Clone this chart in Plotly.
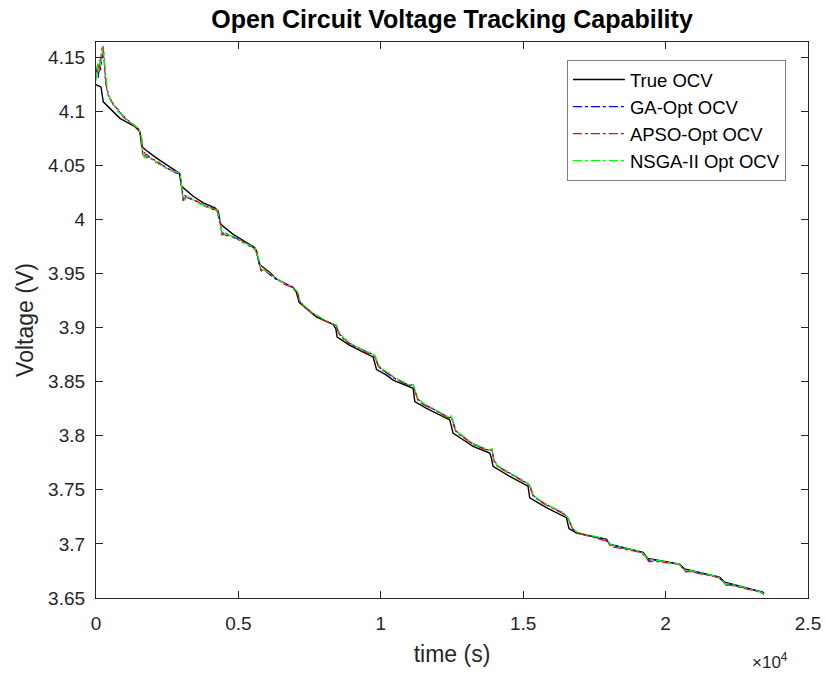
import plotly.graph_objects as go

# ---------------- data ----------------
t_true = [0, 175, 256, 491, 842, 1369, 1544, 1604, 1779, 2130, 2305, 2772, 2923, 3007,
          3414, 3765, 4175, 4292, 4376, 4818, 5288, 5579, 5639, 5730, 6106, 6341, 6923,
          7018, 7134, 7744, 8327, 8422, 8467, 8913, 9380, 9730, 9850, 10201, 10432, 10773,
          11134, 11194, 11604, 12421, 12537, 12888, 13239, 13825, 13885, 13941, 14527,
          15169, 15229, 15815, 16517, 16608, 16868, 17920, 18036, 19205, 19380, 20493,
          20668, 21896, 22071, 23415, 23457]
v_true = [4.1246, 4.1225, 4.1087, 4.1026, 4.0934, 4.0857, 4.0811, 4.0674, 4.0634, 4.0566,
          4.0536, 4.0460, 4.0428, 4.0306, 4.0214, 4.0153, 4.0107, 4.0076, 3.9954, 3.9862,
          3.9785, 3.9739, 3.9709, 3.9586, 3.9509, 3.9449, 3.9371, 3.9341, 3.9234, 3.9096,
          3.9029, 3.8989, 3.8912, 3.8836, 3.8774, 3.8728, 3.8612, 3.8560, 3.8514, 3.8477,
          3.8438, 3.8315, 3.8254, 3.8146, 3.8024, 3.7963, 3.7901, 3.7840, 3.7794, 3.7717,
          3.7625, 3.7533, 3.7427, 3.7335, 3.7243, 3.7142, 3.7099, 3.7044, 3.6998, 3.6921,
          3.6866, 3.6814, 3.6768, 3.6692, 3.6646, 3.6554, 3.6543]

t_est = [0, 40, 80, 120, 160, 200, 240, 280, 320, 360, 400, 450, 520, 600, 700, 800, 950,
         1100, 1300, 1500,
         1600, 1640, 1700, 1780, 1900, 2050, 2200, 2400, 2600, 2800, 2950,
         3010, 3060, 3120, 3200, 3350, 3550, 3800, 4050, 4250,
         4380, 4420, 4480, 4560, 4700, 4900, 5150, 5400, 5600,
         5740, 5800, 5900, 6050, 6300, 6600, 6900,
         7080, 7160, 7300, 7600, 8000, 8300,
         8440, 8500, 8560, 8700, 8900, 9150, 9400, 9700, 9800,
         9900, 10000, 10200, 10450, 10750, 11000, 11130,
         11220, 11300, 11500, 11800, 12100, 12400,
         12480, 12560, 12650, 12900, 13200, 13500, 13800,
         13900, 13980, 14100, 14350, 14700, 15000, 15180,
         15260, 15350, 15500, 15800, 16100, 16400, 16560,
         16650, 16750, 16900, 17200, 17600, 17950,
         18060, 18150, 18400, 18800, 19150,
         19350, 19420, 19550, 19800, 20100, 20450,
         20650, 20720, 20850, 21100, 21500, 21850,
         22050, 22120, 22250, 22600, 23000, 23300, 23457]

v_ga = [4.133, 4.141, 4.131, 4.145, 4.138, 4.150, 4.156, 4.148, 4.135, 4.124, 4.119, 4.114,
        4.110, 4.107, 4.103, 4.100, 4.096, 4.092, 4.088, 4.0835,
        4.075, 4.061, 4.058, 4.060, 4.057, 4.055, 4.052, 4.049, 4.046, 4.043, 4.042,
        4.030, 4.019, 4.022, 4.020, 4.019, 4.016, 4.013, 4.010, 4.008,
        3.996, 3.986, 3.988, 3.987, 3.986, 3.983, 3.979, 3.976, 3.973,
        3.960, 3.953, 3.954, 3.950, 3.945, 3.941, 3.9375,
        3.932, 3.924, 3.920, 3.9135, 3.907, 3.9035,
        3.902, 3.897, 3.894, 3.890, 3.885, 3.882, 3.879, 3.8755, 3.873,
        3.866, 3.862, 3.8585, 3.8535, 3.8495, 3.8465, 3.847,
        3.840, 3.834, 3.829, 3.8255, 3.821, 3.8165,
        3.8175, 3.810, 3.804, 3.799, 3.793, 3.7895, 3.7865,
        3.7875, 3.777, 3.772, 3.768, 3.7625, 3.758, 3.7555,
        3.752, 3.745, 3.7415, 3.7365, 3.7325, 3.7285, 3.7245,
        3.7185, 3.7135, 3.7105, 3.7085, 3.706, 3.703,
        3.6995, 3.6985, 3.697, 3.6945, 3.6925,
        3.687, 3.6845, 3.685, 3.684, 3.683, 3.6815,
        3.677, 3.674, 3.675, 3.6735, 3.6715, 3.6695,
        3.6645, 3.662, 3.6625, 3.6605, 3.658, 3.6558, 3.6538]

v_apso = [4.130, 4.138, 4.145, 4.136, 4.150, 4.157, 4.161, 4.153, 4.131, 4.121, 4.117, 4.113,
          4.111, 4.106, 4.104, 4.101, 4.095, 4.091, 4.0875, 4.0835,
          4.074, 4.059, 4.062, 4.057, 4.058, 4.053, 4.053, 4.048, 4.046, 4.044, 4.043,
          4.028, 4.017, 4.020, 4.022, 4.018, 4.017, 4.012, 4.011, 4.008,
          3.994, 3.984, 3.987, 3.985, 3.985, 3.982, 3.980, 3.975, 3.972,
          3.959, 3.952, 3.955, 3.951, 3.946, 3.940, 3.937,
          3.931, 3.923, 3.9195, 3.913, 3.9065, 3.903,
          3.9015, 3.896, 3.893, 3.889, 3.8855, 3.8815, 3.878, 3.875, 3.872,
          3.865, 3.861, 3.859, 3.854, 3.850, 3.8465, 3.8465,
          3.839, 3.833, 3.8285, 3.825, 3.8205, 3.816,
          3.817, 3.809, 3.803, 3.7985, 3.7925, 3.789, 3.786,
          3.787, 3.776, 3.7715, 3.7675, 3.762, 3.7575, 3.755,
          3.751, 3.744, 3.741, 3.736, 3.732, 3.728, 3.724,
          3.718, 3.713, 3.710, 3.708, 3.7055, 3.7025,
          3.698, 3.697, 3.696, 3.694, 3.692,
          3.686, 3.6835, 3.684, 3.6835, 3.6825, 3.681,
          3.6765, 3.6735, 3.6745, 3.673, 3.671, 3.669,
          3.664, 3.6615, 3.662, 3.660, 3.6575, 3.6555, 3.6535]

v_nsga = [4.128, 4.143, 4.136, 4.148, 4.142, 4.153, 4.158, 4.150, 4.138, 4.126, 4.120, 4.115,
          4.109, 4.108, 4.102, 4.099, 4.096, 4.092, 4.088, 4.084,
          4.076, 4.062, 4.057, 4.059, 4.056, 4.054, 4.051, 4.049, 4.045, 4.044, 4.042,
          4.031, 4.021, 4.018, 4.021, 4.020, 4.015, 4.013, 4.010, 4.009,
          3.997, 3.987, 3.985, 3.988, 3.985, 3.984, 3.979, 3.976, 3.973,
          3.961, 3.954, 3.953, 3.951, 3.946, 3.941, 3.938,
          3.933, 3.925, 3.9205, 3.914, 3.9075, 3.904,
          3.9025, 3.898, 3.895, 3.8905, 3.886, 3.8825, 3.879, 3.876, 3.874,
          3.867, 3.8625, 3.8595, 3.8545, 3.8505, 3.847, 3.848,
          3.841, 3.835, 3.830, 3.826, 3.8215, 3.817,
          3.8185, 3.8105, 3.8045, 3.7995, 3.7935, 3.790, 3.787,
          3.788, 3.7775, 3.7725, 3.7685, 3.763, 3.7585, 3.756,
          3.7525, 3.7455, 3.742, 3.737, 3.733, 3.729, 3.725,
          3.719, 3.714, 3.711, 3.7085, 3.7065, 3.7035,
          3.6995, 3.699, 3.6975, 3.695, 3.6925,
          3.6875, 3.685, 3.6855, 3.6845, 3.683, 3.6815,
          3.677, 3.6745, 3.6755, 3.674, 3.6715, 3.6695,
          3.6645, 3.6625, 3.663, 3.661, 3.658, 3.656, 3.654]

x_tickvals = [0, 5000, 10000, 15000, 20000, 25000]
x_ticktext = ["0", "0.5", "1", "1.5", "2", "2.5"]
y_tickvals = [3.65, 3.7, 3.75, 3.8, 3.85, 3.9, 3.95, 4.0, 4.05, 4.1, 4.15]
y_ticktext = ["3.65", "3.7", "3.75", "3.8", "3.85", "3.9", "3.95", "4", "4.05", "4.1", "4.15"]

series_names = ["True OCV", "GA-Opt OCV", "APSO-Opt OCV", "NSGA-II Opt OCV"]

# ---------------- figure ----------------
FONT = "Liberation Sans, Arial, sans-serif"
AX = "#262626"

fig = go.Figure()
fig.add_trace(go.Scatter(x=t_true, y=v_true, mode="lines", name=series_names[0],
                         line=dict(color="black", width=1.4)))
fig.add_trace(go.Scatter(x=t_est, y=v_ga, mode="lines", name=series_names[1],
                         line=dict(color="#0000FF", width=1.2, dash="dashdot")))
fig.add_trace(go.Scatter(x=t_est, y=v_apso, mode="lines", name=series_names[2],
                         line=dict(color="#FF0000", width=1.2, dash="dashdot")))
fig.add_trace(go.Scatter(x=t_est, y=v_nsga, mode="lines", name=series_names[3],
                         line=dict(color="#00FF00", width=1.2, dash="dashdot")))

axis_common = dict(showline=True, linecolor=AX, linewidth=1.2, mirror="allticks",
                   ticks="inside", ticklen=7, tickcolor=AX, tickwidth=1.2,
                   showgrid=False, zeroline=False, automargin=False,
                   tickfont=dict(family=FONT, size=19, color=AX))

L, R, T, B = 96, 17, 42, 77
fig.update_layout(
    width=825, height=675,
    paper_bgcolor="white", plot_bgcolor="white",
    margin=dict(l=L, r=R, t=T, b=B, autoexpand=False),
    title=dict(text="<b>Open Circuit Voltage Tracking Capability</b>",
               x=452 / 825, xanchor="center", y=1 - 19 / 675, yanchor="middle",
               font=dict(family=FONT, size=25, color="black")),
    xaxis=dict(range=[0, 25000], tickvals=x_tickvals, ticktext=x_ticktext,
               ticklabelstandoff=8,
               title=dict(text="time (s)", font=dict(family=FONT, size=23, color=AX), standoff=12),
               **axis_common),
    yaxis=dict(range=[3.65, 4.164], tickvals=y_tickvals, ticktext=y_ticktext,
               ticklabelstandoff=6,
               title=dict(text="Voltage (V)", font=dict(family=FONT, size=23, color=AX), standoff=8),
               **axis_common),
    legend=dict(x=0.969, xanchor="right", y=0.9676, yanchor="top",
                bgcolor="white", bordercolor="#7f7f7f", borderwidth=1,
                font=dict(family=FONT, size=18.5, color="black"),
                tracegroupgap=0, itemwidth=52),
    showlegend=True,
)

fig.add_annotation(text="×10<sup>4</sup>", xref="paper", yref="paper",
                   x=(790 - L) / 712, y=(598 - 661) / 556, xanchor="right", yanchor="middle",
                   showarrow=False, font=dict(family=FONT, size=17, color=AX))

fig.write_html("out.html", config={"displayModeBar": False},
               post_script="document.body.style.margin='0px';document.body.style.overflow='hidden';")
